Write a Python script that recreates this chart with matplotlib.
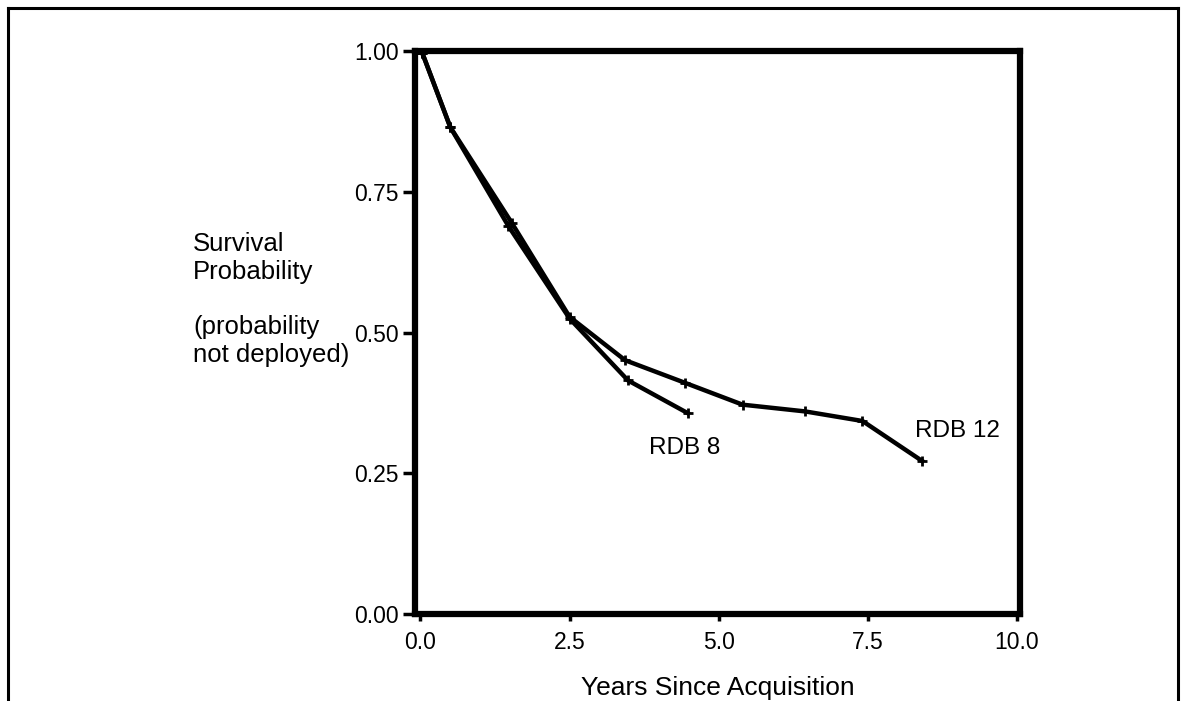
import matplotlib
matplotlib.use("Agg")
import matplotlib.pyplot as plt
from matplotlib.lines import Line2D

plt.rcParams['font.family'] = ['Liberation Sans', 'DejaVu Sans']

# Data
rdb8_years = [0.03, 0.5, 1.47, 2.5, 3.48, 4.48]
rdb8_surv = [0.997, 0.865, 0.690, 0.525, 0.415, 0.357]
rdb12_years = [0.03, 0.5, 1.53, 2.5, 3.43, 4.43, 5.40, 6.45, 7.41, 8.41]
rdb12_surv = [0.997, 0.865, 0.695, 0.528, 0.451, 0.411, 0.372, 0.360, 0.343, 0.272]

x_ticks = [0.0, 2.5, 5.0, 7.5, 10.0]
x_ticklabels = ["0.0", "2.5", "5.0", "7.5", "10.0"]
y_ticks = [0.0, 0.25, 0.5, 0.75, 1.0]
y_ticklabels = ["0.00", "0.25", "0.50", "0.75", "1.00"]

fig = plt.figure(figsize=(11.86, 7.01), dpi=100)
ax = fig.add_axes([0.350, 0.124, 0.510, 0.803])

for xs, ys in [(rdb8_years, rdb8_surv), (rdb12_years, rdb12_surv)]:
    ax.plot(xs, ys, color='black', lw=3.2, marker='+', markersize=7,
            markeredgewidth=2.0, solid_joinstyle='round')

ax.text(4.43, 0.295, "RDB 8", fontsize=17.5, ha='center', va='center')
ax.text(9.0, 0.326, "RDB 12", fontsize=17.5, ha='center', va='center')

ax.set_xlim(-0.09, 10.05)
ax.set_ylim(0.0, 1.0)
ax.set_xticks(x_ticks)
ax.set_xticklabels(x_ticklabels)
ax.set_yticks(y_ticks)
ax.set_yticklabels(y_ticklabels)
ax.tick_params(axis='both', labelsize=16.5, direction='out', width=2.5, color='black')
ax.tick_params(axis='y', length=9, pad=3)
ax.tick_params(axis='x', length=5, pad=7)
for sp in ax.spines.values():
    sp.set_linewidth(4.5)
    sp.set_color('black')

ax.set_xlabel("Years Since Acquisition", fontsize=19, labelpad=16)

# Y-axis label as a left-aligned text block
fig.text(193 / 1186, 1 - 232 / 701, "Survival\nProbability\n\n(probability\nnot deployed)",
         fontsize=18.5, ha='left', va='top', linespacing=1.2,
         transform=fig.transFigure)

# Outer frame (top, left, right)
fw = 2.2
fig.add_artist(Line2D([8 / 1186, 1178 / 1186], [1 - 8 / 701, 1 - 8 / 701],
                      transform=fig.transFigure, color='black', lw=fw))
fig.add_artist(Line2D([8 / 1186, 8 / 1186], [0, 1 - 8 / 701],
                      transform=fig.transFigure, color='black', lw=fw))
fig.add_artist(Line2D([1178 / 1186, 1178 / 1186], [0, 1 - 8 / 701],
                      transform=fig.transFigure, color='black', lw=fw))

fig.savefig("out.png", dpi=100)
